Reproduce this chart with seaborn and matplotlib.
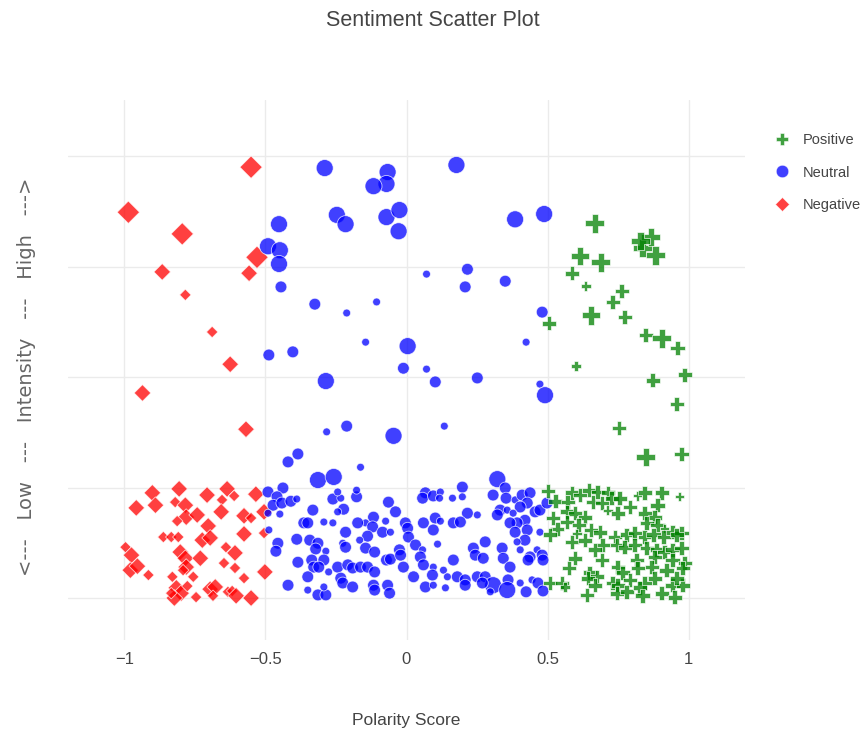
import pandas as pd
import seaborn as sns
import matplotlib
matplotlib.use('Agg')
import matplotlib.pyplot as plt
from matplotlib.lines import Line2D

# (polarity, intensity, word weight)
negative_pts = [
    (-0.551, 0.975, 3), (-0.986, 0.873, 3), (-0.795, 0.824, 3), (-0.866, 0.738, 2),
    (-0.530, 0.771, 3), (-0.558, 0.735, 2), (-0.784, 0.686, 1), (-0.689, 0.602, 1),
    (-0.625, 0.529, 2), (-0.936, 0.464, 2), (-0.569, 0.382, 2),
    (-0.901, 0.238, 2), (-0.806, 0.247, 2), (-0.890, 0.210, 2), (-0.958, 0.204, 2),
    (-0.820, 0.217, 1), (-0.784, 0.210, 2), (-0.781, 0.183, 2), (-0.813, 0.174, 1),
    (-0.742, 0.188, 2), (-0.707, 0.233, 2), (-0.636, 0.247, 2), (-0.611, 0.231, 1),
    (-0.654, 0.222, 1), (-0.657, 0.195, 2), (-0.576, 0.186, 2), (-0.551, 0.181, 1),
    (-0.534, 0.235, 2), (-0.505, 0.195, 2), (-0.703, 0.163, 2), (-0.862, 0.138, 1),
    (-0.834, 0.138, 1), (-0.809, 0.138, 1), (-0.724, 0.131, 2), (-0.696, 0.136, 2),
    (-0.576, 0.145, 2), (-0.505, 0.147, 1), (-0.996, 0.115, 1), (-0.975, 0.097, 2),
    (-0.979, 0.063, 2), (-0.954, 0.072, 2), (-0.915, 0.052, 1), (-0.802, 0.104, 2),
    (-0.784, 0.090, 2), (-0.781, 0.070, 2), (-0.792, 0.063, 1), (-0.731, 0.090, 2),
    (-0.640, 0.115, 1), (-0.608, 0.102, 2), (-0.647, 0.079, 1), (-0.608, 0.068, 1),
    (-0.502, 0.059, 2), (-0.830, 0.048, 1), (-0.756, 0.048, 1), (-0.576, 0.045, 1),
    (-0.816, 0.023, 2), (-0.799, 0.011, 2), (-0.823, 0.000, 2), (-0.834, 0.011, 1),
    (-0.777, 0.027, 1), (-0.746, 0.002, 1), (-0.696, 0.020, 2), (-0.678, 0.025, 2),
    (-0.686, 0.005, 1), (-0.633, 0.014, 1), (-0.618, 0.016, 1), (-0.604, 0.005, 2),
    (-0.551, 0.000, 2),
]

neutral_pts = [
    (-0.290, 0.973, 3), (-0.247, 0.867, 3), (-0.216, 0.846, 3), (-0.452, 0.846, 3),
    (-0.491, 0.796, 3), (-0.449, 0.787, 3), (-0.452, 0.756, 3), (-0.445, 0.704, 2),
    (-0.325, 0.665, 2), (-0.212, 0.645, 1), (-0.067, 0.964, 3), (-0.071, 0.937, 3),
    (-0.117, 0.932, 3), (0.177, 0.980, 3), (-0.071, 0.862, 3), (-0.025, 0.878, 3),
    (-0.028, 0.830, 3), (0.385, 0.857, 3), (0.488, 0.869, 3), (0.071, 0.733, 1),
    (0.216, 0.744, 2), (0.208, 0.704, 2), (0.350, 0.717, 2), (-0.106, 0.670, 1),
    (0.481, 0.647, 2), (-0.145, 0.579, 1), (0.004, 0.570, 3), (0.424, 0.579, 1),
    (-0.488, 0.550, 2), (-0.403, 0.557, 2), (-0.011, 0.520, 2), (0.071, 0.518, 1),
    (0.102, 0.489, 2), (0.251, 0.498, 2), (0.473, 0.484, 1), (0.491, 0.459, 3),
    (-0.286, 0.491, 3), (-0.283, 0.376, 1), (-0.212, 0.389, 2), (-0.046, 0.367, 3),
    (0.134, 0.389, 1), (-0.420, 0.308, 2), (-0.385, 0.326, 2), (-0.163, 0.296, 1),
    (-0.314, 0.267, 3), (-0.258, 0.274, 3), (0.322, 0.269, 3),
    # low intensity band, left half
    (-0.491, 0.240, 2), (-0.438, 0.249, 2), (-0.459, 0.229, 2), (-0.473, 0.210, 2),
    (-0.442, 0.215, 2), (-0.410, 0.219, 2), (-0.389, 0.224, 1), (-0.449, 0.190, 1),
    (-0.491, 0.192, 1), (-0.332, 0.199, 2), (-0.261, 0.224, 2), (-0.233, 0.226, 1),
    (-0.244, 0.240, 1), (-0.177, 0.229, 2), (-0.177, 0.244, 1), (-0.223, 0.201, 2),
    (-0.244, 0.195, 1), (-0.064, 0.217, 2), (-0.039, 0.195, 2), (-0.004, 0.170, 2),
    (-0.117, 0.183, 2), (-0.145, 0.170, 1), (-0.173, 0.170, 2), (-0.074, 0.174, 1),
    (-0.364, 0.170, 2), (-0.350, 0.170, 2), (-0.293, 0.172, 1), (-0.261, 0.170, 1),
    (-0.488, 0.154, 1), (-0.216, 0.149, 2), (-0.120, 0.161, 2), (-0.085, 0.149, 2),
    (-0.057, 0.149, 1), (-0.138, 0.140, 2), (-0.389, 0.133, 2), (-0.343, 0.131, 2),
    (-0.314, 0.124, 2), (-0.322, 0.111, 2), (-0.456, 0.124, 2), (-0.463, 0.106, 2),
    (-0.286, 0.106, 1), (-0.226, 0.124, 1), (-0.216, 0.115, 2), (-0.166, 0.131, 1),
    (-0.145, 0.113, 2), (-0.113, 0.104, 2), (-0.025, 0.109, 2), (-0.385, 0.081, 2),
    (-0.336, 0.086, 2), (-0.293, 0.086, 2), (-0.329, 0.070, 2), (-0.311, 0.070, 2),
    (-0.276, 0.059, 1), (-0.244, 0.070, 2), (-0.208, 0.075, 2), (-0.191, 0.068, 2),
    (-0.163, 0.070, 2), (-0.138, 0.070, 2), (-0.113, 0.059, 2), (-0.071, 0.086, 2),
    (-0.057, 0.088, 2), (-0.011, 0.070, 2), (-0.350, 0.048, 2), (-0.233, 0.045, 2),
    (-0.226, 0.034, 2), (-0.191, 0.025, 2), (-0.117, 0.029, 2), (-0.113, 0.018, 2),
    (-0.067, 0.029, 2), (-0.060, 0.011, 2), (-0.420, 0.029, 2), (-0.350, 0.018, 1),
    (-0.314, 0.007, 2), (-0.286, 0.007, 2), (-0.293, 0.025, 1),
    # low intensity band, right half
    (0.198, 0.251, 2), (0.350, 0.249, 2), (0.067, 0.238, 2), (0.057, 0.226, 2),
    (0.095, 0.231, 2), (0.120, 0.240, 1), (0.117, 0.226, 1), (0.163, 0.226, 1),
    (0.198, 0.229, 1), (0.307, 0.233, 2), (0.353, 0.226, 2), (0.385, 0.222, 1),
    (0.410, 0.233, 2), (0.438, 0.238, 2), (0.428, 0.215, 2), (0.403, 0.206, 2),
    (0.332, 0.199, 2), (0.357, 0.199, 1), (0.378, 0.192, 1), (0.216, 0.192, 2),
    (0.251, 0.188, 1), (0.322, 0.188, 2), (0.456, 0.195, 2), (0.473, 0.199, 2),
    (0.498, 0.215, 2), (0.004, 0.158, 2), (0.060, 0.170, 2), (0.102, 0.181, 2),
    (0.120, 0.174, 1), (0.166, 0.170, 2), (0.191, 0.172, 2), (0.095, 0.154, 2),
    (0.007, 0.138, 2), (0.420, 0.176, 2), (0.392, 0.170, 2), (0.367, 0.170, 2),
    (0.385, 0.149, 2), (0.428, 0.154, 2), (0.420, 0.131, 2), (0.392, 0.127, 1),
    (0.403, 0.109, 1), (0.473, 0.149, 1), (0.032, 0.120, 2), (0.057, 0.109, 1),
    (0.049, 0.093, 2), (0.110, 0.122, 1), (0.237, 0.113, 2), (0.244, 0.097, 2),
    (0.279, 0.127, 2), (0.339, 0.113, 2), (0.463, 0.109, 1), (0.481, 0.097, 2),
    (0.438, 0.093, 2), (0.343, 0.090, 2), (0.272, 0.090, 2), (0.166, 0.086, 2),
    (-0.021, 0.097, 2), (0.060, 0.075, 2), (0.095, 0.070, 1), (0.367, 0.070, 2),
    (0.431, 0.086, 2), (0.484, 0.086, 2), (0.025, 0.048, 2), (0.092, 0.052, 2),
    (0.131, 0.063, 1), (0.145, 0.048, 1), (0.180, 0.048, 2), (0.208, 0.041, 2),
    (0.251, 0.048, 2), (0.279, 0.048, 2), (0.307, 0.029, 3), (0.360, 0.041, 2),
    (0.403, 0.034, 1), (0.445, 0.041, 1), (0.466, 0.034, 2), (0.067, 0.025, 2),
    (0.095, 0.029, 1), (0.138, 0.023, 1), (0.208, 0.029, 2), (0.269, 0.034, 2),
    (0.357, 0.018, 3), (0.424, 0.014, 2), (0.484, 0.016, 2), (0.297, 0.014, 1),
]

positive_pts = [
    (0.668, 0.848, 3), (0.615, 0.774, 3), (0.689, 0.760, 3), (0.587, 0.735, 2),
    (0.636, 0.706, 1), (0.837, 0.792, 3), (0.866, 0.817, 3), (0.883, 0.776, 3),
    (0.830, 0.808, 3), (0.763, 0.695, 2), (0.731, 0.670, 2), (0.774, 0.636, 2),
    (0.654, 0.640, 3), (0.505, 0.622, 2), (0.848, 0.595, 2), (0.905, 0.588, 3),
    (0.961, 0.566, 2), (0.601, 0.525, 1), (0.873, 0.493, 2), (0.986, 0.505, 2),
    (0.958, 0.439, 2), (0.753, 0.385, 2), (0.848, 0.319, 3), (0.975, 0.326, 2),
    # low intensity band
    (0.502, 0.242, 2), (0.527, 0.219, 2), (0.572, 0.217, 2), (0.569, 0.195, 2),
    (0.587, 0.238, 2), (0.615, 0.233, 2), (0.647, 0.244, 2), (0.678, 0.240, 2),
    (0.714, 0.238, 2), (0.728, 0.226, 2), (0.756, 0.226, 2), (0.792, 0.206, 2),
    (0.820, 0.231, 1), (0.845, 0.238, 2), (0.905, 0.238, 2), (0.890, 0.210, 2),
    (0.968, 0.229, 1), (0.597, 0.192, 2), (0.633, 0.183, 2), (0.661, 0.217, 2),
    (0.693, 0.215, 2), (0.714, 0.199, 1), (0.749, 0.192, 2), (0.519, 0.181, 2),
    (0.534, 0.156, 2), (0.569, 0.172, 2), (0.611, 0.165, 2), (0.654, 0.154, 2),
    (0.686, 0.149, 2), (0.604, 0.145, 1), (0.845, 0.192, 2), (0.880, 0.183, 2),
    (0.852, 0.170, 2), (0.890, 0.165, 2), (0.915, 0.158, 1), (0.943, 0.149, 2),
    (0.975, 0.147, 2), (0.509, 0.143, 2), (0.587, 0.127, 2), (0.633, 0.131, 2),
    (0.696, 0.120, 2), (0.739, 0.138, 2), (0.781, 0.143, 2), (0.809, 0.147, 2),
    (0.845, 0.138, 2), (0.876, 0.143, 2), (0.912, 0.138, 2), (0.958, 0.143, 2),
    (0.668, 0.109, 2), (0.746, 0.120, 2), (0.774, 0.115, 2), (0.809, 0.120, 2),
    (0.852, 0.113, 2), (0.887, 0.109, 2), (0.915, 0.104, 2), (0.943, 0.109, 2),
    (0.975, 0.113, 2), (0.597, 0.090, 2), (0.693, 0.086, 2), (0.816, 0.086, 2),
    (0.880, 0.093, 2), (0.943, 0.086, 2), (0.986, 0.079, 2), (0.576, 0.068, 2),
    (0.650, 0.057, 2), (0.675, 0.048, 2), (0.749, 0.070, 2), (0.767, 0.057, 2),
    (0.820, 0.068, 2), (0.869, 0.070, 2), (0.922, 0.063, 2), (0.979, 0.068, 2),
    (0.509, 0.034, 2), (0.551, 0.034, 2), (0.562, 0.025, 1), (0.643, 0.045, 2),
    (0.668, 0.029, 2), (0.731, 0.034, 2), (0.749, 0.029, 2), (0.792, 0.041, 2),
    (0.845, 0.034, 2), (0.880, 0.045, 2), (0.943, 0.029, 2), (0.979, 0.029, 2),
    (0.958, 0.045, 2), (0.640, 0.007, 2), (0.746, 0.011, 2), (0.781, 0.014, 2),
    (0.827, 0.023, 2), (0.905, 0.011, 2), (0.951, 0.002, 2), (0.837, 0.005, 2),
]

sentiments = ['Positive', 'Neutral', 'Negative']
x_ticks = [-1, -0.5, 0, 0.5, 1]
x_tick_labels = ['\u22121', '\u22120.5', '0', '0.5', '1']
y_grid = [0, 0.25, 0.5, 0.75, 1]

frames = []
for name, pts in zip(sentiments, [positive_pts, neutral_pts, negative_pts]):
    part = pd.DataFrame(pts, columns=['polarity', 'intensity', 'weight'])
    part['sentiment'] = name
    frames.append(part)
df = pd.concat(frames, ignore_index=True)

colors = {'Positive': 'green', 'Neutral': 'blue', 'Negative': 'red'}
markers = {'Positive': 'P', 'Neutral': 'o', 'Negative': 'D'}
# marker area per weight level, tuned per glyph so they read alike
glyph_sizes = {
    'Positive': {1: 45, 2: 105, 3: 185},
    'Neutral': {1: 32, 2: 72, 3: 150},
    'Negative': {1: 34, 2: 72, 3: 130},
}

sns.set_theme(style='white')
plt.rcParams['font.family'] = ['Liberation Sans', 'DejaVu Sans']
text_color = '#444444'

fig = plt.figure(figsize=(8.66, 7.34), dpi=100)
ax = fig.add_axes([68 / 866, 1 - 640 / 734, (745 - 68) / 866, (640 - 100) / 734])

# negatives first, positives on top
for name in ['Negative', 'Neutral', 'Positive']:
    sub = df[df['sentiment'] == name]
    sns.scatterplot(data=sub, x='polarity', y='intensity', size='weight',
                    sizes=glyph_sizes[name], color=colors[name], marker=markers[name],
                    alpha=0.75, edgecolor='white', linewidth=0.6,
                    legend=False, ax=ax, zorder=3)

ax.set_xlim(-1.2, 1.2)
ax.set_ylim(-0.095, 1.127)
ax.set_xticks(x_ticks)
ax.set_xticklabels(x_tick_labels)
ax.set_yticks(y_grid)
ax.set_yticklabels([])
ax.grid(True, color='#ebebeb', linewidth=1)
ax.set_axisbelow(True)
for s in ax.spines.values():
    s.set_visible(False)
ax.tick_params(length=0, pad=9, labelsize=12, colors=text_color)
ax.set_xlabel('')
ax.set_ylabel('')

fig.text(406 / 866, 1 - 720 / 734, 'Polarity Score', ha='center', va='center',
         fontsize=12.5, color=text_color)
fig.text(27 / 866, 1 - 377 / 734,
         '<---   Low   ---   Intensity   ---   High   --->',
         rotation=90, ha='center', va='center', fontsize=14,
         family='DejaVu Sans', color='#666666')
fig.text(0.5, 1 - 21 / 734, 'Sentiment Scatter Plot', ha='center', va='center',
         fontsize=15.5, color=text_color)

handles = [Line2D([0], [0], marker=markers[n], color='none', markerfacecolor=colors[n],
                  markeredgecolor='white', markeredgewidth=0.5, alpha=0.75,
                  markersize=9 if n != 'Negative' else 7.5)
           for n in sentiments]
fig.legend(handles, sentiments, loc='upper left', bbox_to_anchor=(766 / 866, 1 - 126 / 734),
           frameon=False, fontsize=10.5, labelspacing=1.25, handletextpad=0.8,
           handlelength=1.2, borderpad=0, labelcolor=text_color)

plt.savefig('out.png', dpi=100)
plt.close()
